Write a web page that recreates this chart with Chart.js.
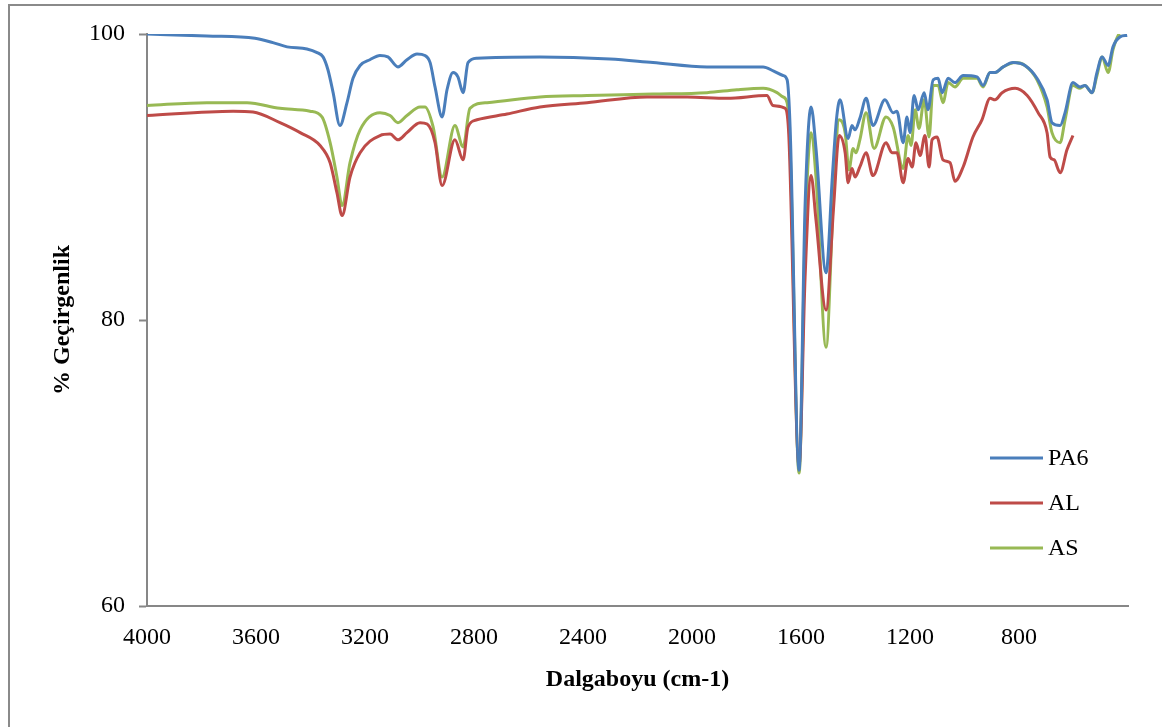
<!DOCTYPE html>
<html>
<head>
<meta charset="utf-8">
<script src="https://cdn.jsdelivr.net/npm/chart.js@4.4.1/dist/chart.umd.min.js"></script>
<style>
  html, body { margin: 0; padding: 0; background: #fff; overflow: hidden; }
  #frame {
    position: absolute; left: 8px; top: 4px; width: 1200px; height: 800px;
    border-left: 2px solid #8a8a8a; border-top: 2px solid #8a8a8a;
  }
  #chart { position: absolute; left: 0; top: 0; }
</style>
</head>
<body>
<div id="frame"></div>
<canvas id="chart" width="1162" height="727"></canvas>
<script>
// wavenumbers (cm-1) and % transmittance
const seriesNames = ["PA6", "AL", "AS"];
const seriesColors = ["#4A7EBB", "#BE4B48", "#98B954"];

const pa6Wn = [4000, 3780, 3604, 3538, 3486, 3413, 3376, 3354, 3336, 3317, 3292, 3266, 3244, 3218, 3182, 3145, 3116, 3079, 3046, 3009, 2980, 2961, 2943, 2917, 2899, 2877, 2859, 2840, 2822, 2789, 2558, 2301, 2143, 1945, 1739, 1700, 1666, 1651, 1640, 1607, 1585, 1563, 1545, 1508, 1485, 1470, 1457, 1427, 1413, 1402, 1384, 1361, 1336, 1292, 1262, 1248, 1225, 1211, 1200, 1185, 1170, 1148, 1134, 1115, 1097, 1082, 1060, 1035, 1005, 954, 932, 906, 888, 858, 822, 778, 734, 697, 679, 649, 631, 602, 576, 558, 532, 514, 495, 473, 455, 429, 403];
const pa6T = [100, 99.86, 99.7, 99.4, 99.1, 98.95, 98.7, 98.4, 97.5, 95.9, 93.6, 95.2, 96.9, 97.8, 98.2, 98.5, 98.4, 97.7, 98.2, 98.6, 98.5, 98.0, 96.3, 94.2, 96.1, 97.3, 97.0, 95.9, 98.0, 98.3, 98.4, 98.25, 98.0, 97.7, 97.7, 97.4, 97.1, 96.8, 93.5, 69.5, 88, 94.9, 92, 83.3, 90, 94, 95.4, 92.7, 93.6, 93.3, 94.1, 95.5, 93.6, 95.4, 94.5, 94.6, 92.4, 94.2, 93.1, 95.7, 94.7, 95.9, 94.7, 96.8, 96.9, 95.9, 96.9, 96.6, 97.1, 97.0, 96.4, 97.3, 97.3, 97.7, 98.0, 97.8, 96.9, 95.4, 93.8, 93.6, 94.5, 96.6, 96.3, 96.4, 95.9, 97.3, 98.4, 97.8, 99.1, 99.8, 99.9];

const alWn = [4000, 3684, 3611, 3512, 3438, 3365, 3328, 3303, 3284, 3255, 3218, 3145, 3108, 3079, 3046, 2998, 2972, 2943, 2917, 2870, 2840, 2822, 2789, 2679, 2558, 2385, 2165, 2018, 1871, 1725, 1703, 1658, 1645, 1607, 1585, 1563, 1545, 1508, 1480, 1460, 1438, 1427, 1413, 1402, 1384, 1361, 1336, 1288, 1266, 1248, 1225, 1207, 1192, 1178, 1163, 1145, 1130, 1119, 1101, 1079, 1053, 1035, 1005, 969, 936, 906, 888, 862, 814, 770, 730, 697, 686, 671, 649, 624, 602];
const alT = [94.3, 94.6, 94.55, 93.8, 93.1, 92.2, 91.0, 88.9, 87.3, 90.0, 91.7, 92.9, 93.0, 92.6, 93.1, 93.8, 93.7, 92.4, 89.4, 92.6, 91.2, 93.5, 94.0, 94.4, 94.9, 95.2, 95.6, 95.6, 95.5, 95.7, 95.0, 94.8, 93, 69.8, 83, 90.1, 87, 80.7, 88, 92.9, 91.7, 89.6, 90.6, 90.0, 90.7, 91.7, 90.1, 92.4, 91.7, 91.7, 89.6, 91.3, 90.7, 92.4, 91.5, 92.9, 90.7, 92.6, 92.8, 91.2, 91.0, 89.7, 90.7, 92.8, 94.0, 95.5, 95.4, 95.9, 96.2, 95.7, 94.5, 93.1, 91.4, 91.2, 90.3, 91.9, 92.9];

const asWn = [4000, 3780, 3633, 3512, 3402, 3358, 3328, 3303, 3284, 3255, 3218, 3145, 3108, 3079, 3046, 2998, 2980, 2950, 2917, 2870, 2840, 2815, 2752, 2558, 2385, 2143, 1945, 1835, 1739, 1688, 1666, 1651, 1640, 1607, 1585, 1563, 1545, 1508, 1480, 1460, 1438, 1424, 1409, 1398, 1384, 1361, 1332, 1288, 1262, 1225, 1207, 1196, 1181, 1167, 1148, 1130, 1115, 1097, 1079, 1060, 1035, 1005, 954, 932, 906, 888, 858, 814, 778, 734, 697, 679, 649, 631, 602, 576, 558, 532, 514, 495, 473, 455, 436, 429];
const asT = [95.0, 95.2, 95.2, 94.8, 94.6, 94.2, 92.4, 90.0, 88.0, 91.0, 93.3, 94.5, 94.3, 93.8, 94.3, 94.9, 94.9, 93.5, 90.0, 93.6, 92.1, 94.8, 95.2, 95.6, 95.7, 95.8, 95.9, 96.1, 96.2, 95.9, 95.6, 95.2, 92, 69.3, 86, 93.1, 90, 78.1, 89, 94.0, 93.1, 90.5, 92.0, 91.7, 92.6, 94.5, 92.0, 94.2, 93.5, 90.6, 92.9, 92.2, 94.7, 93.4, 95.4, 92.8, 96.4, 96.4, 95.2, 96.6, 96.3, 96.9, 96.9, 96.3, 97.3, 97.3, 97.7, 98.0, 97.8, 96.8, 94.9, 93.1, 92.4, 94.0, 96.4, 96.2, 96.4, 95.9, 97.1, 98.4, 97.3, 98.9, 99.9, 100];

const xTicks = [4000, 3600, 3200, 2800, 2400, 2000, 1600, 1200, 800, 400];
const yTicks = [60, 80, 100];

const FONT = "'Liberation Serif', 'Times New Roman', serif";
const AXIS_GRAY = "#878787";

function toPoints(wn, t) {
  return wn.map((w, i) => ({ x: w, y: t[i] }));
}

const datasets = [
  toPoints(pa6Wn, pa6T),
  toPoints(alWn, alT),
  toPoints(asWn, asT),
].map((pts, i) => ({
  label: seriesNames[i],
  data: pts,
  borderColor: seriesColors[i],
  backgroundColor: seriesColors[i],
  borderWidth: 3,
  pointRadius: 0,
  cubicInterpolationMode: "monotone",
  fill: false,
}));

// legend drawn inside the plot, lower right, like the original
const insideLegend = {
  id: "insideLegend",
  afterDraw(chart) {
    const ctx = chart.ctx;
    ctx.save();
    ctx.font = "24px " + FONT;
    ctx.textBaseline = "middle";
    ctx.fillStyle = "#000";
    chart.data.datasets.forEach((ds, i) => {
      const y = 458 + i * 45;
      ctx.strokeStyle = ds.borderColor;
      ctx.lineWidth = 3;
      ctx.beginPath();
      ctx.moveTo(990, y);
      ctx.lineTo(1043, y);
      ctx.stroke();
      ctx.fillText(ds.label, 1048, y + 1);
    });
    ctx.restore();
  },
};

new Chart(document.getElementById("chart").getContext("2d"), {
  type: "line",
  data: { datasets },
  options: {
    responsive: false,
    animation: false,
    layout: { padding: { top: 34, right: 34, left: 0, bottom: 0 } },
    plugins: { legend: { display: false }, tooltip: { enabled: false } },
    scales: {
      x: {
        type: "linear",
        reverse: true,
        min: 400,
        max: 4000,
        afterBuildTicks: (s) => { s.ticks = xTicks.map((v) => ({ value: v })); },
        afterFit: (s) => { s.height = 121; },
        ticks: {
          autoSkip: false,
          maxRotation: 0,
          padding: 17,
          color: "#000",
          font: { family: FONT, size: 24 },
          callback: (v) => (v === 400 ? "" : v),
        },
        grid: { drawOnChartArea: false, drawTicks: false },
        border: { color: AXIS_GRAY, width: 2 },
        title: {
          display: true,
          text: "Dalgaboyu (cm-1)",
          color: "#000",
          font: { family: FONT, size: 24, weight: "bold" },
          padding: { top: 0, bottom: 33 },
        },
      },
      y: {
        min: 60,
        max: 100,
        afterBuildTicks: (s) => { s.ticks = yTicks.map((v) => ({ value: v })); },
        afterFit: (s) => { s.width = 147; },
        ticks: {
          padding: 14,
          color: "#000",
          font: { family: FONT, size: 24 },
        },
        grid: {
          drawOnChartArea: false,
          tickLength: 8,
          tickColor: AXIS_GRAY,
          tickWidth: 2,
        },
        border: { color: AXIS_GRAY, width: 2 },
        title: {
          display: true,
          text: "% Geçirgenlik",
          color: "#000",
          font: { family: FONT, size: 24, weight: "bold" },
          padding: { top: 48, bottom: 0 },
        },
      },
    },
  },
  plugins: [insideLegend],
});
</script>
</body>
</html>
